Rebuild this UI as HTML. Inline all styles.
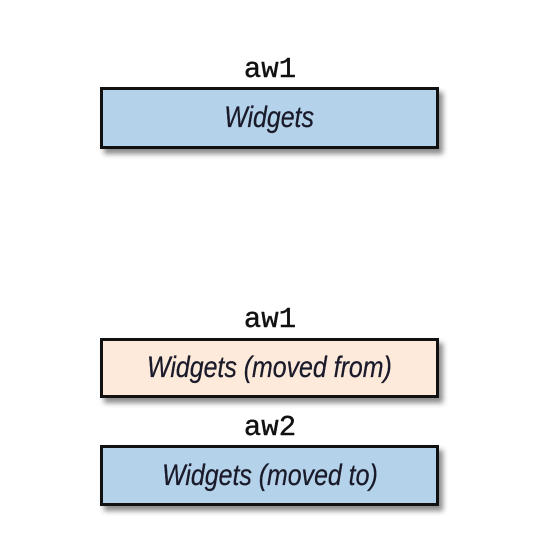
<!DOCTYPE html>
<html><head><style>
html,body{margin:0;padding:0;background:#fff;width:545px;height:552px;overflow:hidden;position:relative}
.lbl{position:absolute;left:100px;width:340px;text-align:center;font-family:"Liberation Mono",monospace;font-size:29px;line-height:28px;color:#111;-webkit-text-stroke:0.4px #111}
.box{position:absolute;left:100px;width:333px;border:3px solid #111;box-shadow:4px 5px 5px rgba(0,0,0,0.45);display:flex;align-items:center;justify-content:center}
.box span{font-family:"Liberation Sans",sans-serif;font-style:italic;font-size:30px;color:#1a1a2a;display:inline-block;transform:scaleX(0.83);white-space:nowrap;-webkit-text-stroke:0.3px #1a1a2a}
</style></head><body>
<div class="lbl" style="top:56px">aw1</div>
<div class="box" style="top:87px;height:56px;background:#b4d3ea"><span>Widgets</span></div>
<div class="lbl" style="top:306px">aw1</div>
<div class="box" style="top:338px;height:54px;background:#fdeadb"><span>Widgets (moved from)</span></div>
<div class="lbl" style="top:414px">aw2</div>
<div class="box" style="top:445px;height:55px;background:#b4d3ea"><span>Widgets (moved to)</span></div>
</body></html>
